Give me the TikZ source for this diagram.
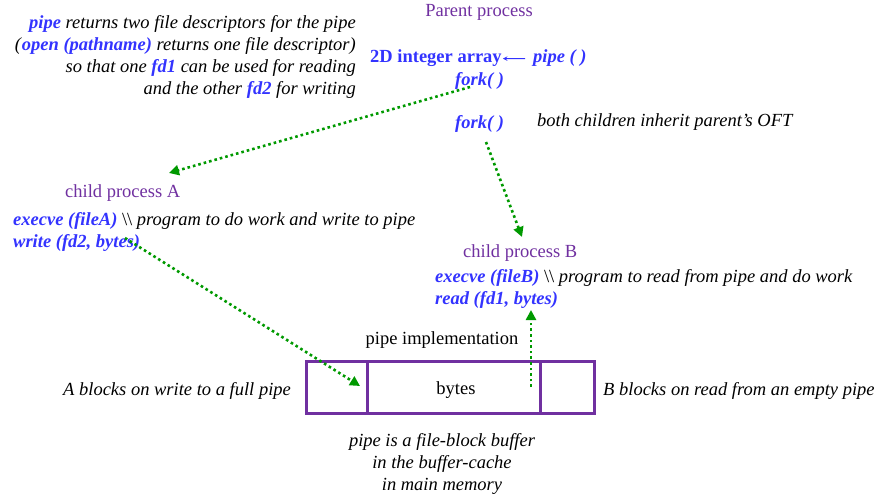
\documentclass[tikz,border=0pt]{standalone}
\usepackage{fontspec}
\setmainfont{Liberation Serif}
\usetikzlibrary{arrows.meta}
\definecolor{kwblue}{RGB}{51,51,255}
\definecolor{procpurple}{RGB}{112,48,160}
\definecolor{flowgreen}{RGB}{0,153,0}
\newcommand{\kw}[1]{\textcolor{kwblue}{\textbf{\textit{#1}}}}

\begin{document}
\begin{tikzpicture}[x=1pt,y=-1pt,>=stealth,
  every node/.style={inner sep=0pt,font=\fontsize{18.5}{22}\selectfont},
  proc/.style={text=procpurple},
  flow/.style={flowgreen,line width=2.6pt,dash pattern=on 2.6pt off 3pt,-{Triangle[length=10pt,width=10pt]}},
  box/.style={draw=procpurple,line width=3pt}]
\useasboundingbox (0,0) rectangle (882,495);

\coordinate (A1) at (470,87);
\coordinate (A2) at (169,173);
\coordinate (B1) at (486,142);
\coordinate (B2) at (522,237);
\coordinate (W1) at (125,238);
\coordinate (W2) at (360,386);
\coordinate (R1) at (531,387);
\coordinate (R2) at (531,310);

\node[anchor=base east,align=right] (note) at (356,94) {\kw{pipe} \textit{returns two file descriptors for the pipe}\\
  \textit{(}\kw{open (pathname)} \textit{returns one file descriptor)}\\
  \textit{so that one} \kw{fd1} \textit{can be used for reading}\\
  \textit{and the other} \kw{fd2} \textit{for writing}};

\node[proc,anchor=base] (parent) at (479,17) {Parent process};
\node[anchor=base west,text=kwblue,font=\fontsize{18.5}{22}\selectfont\bfseries] (arr) at (370,63) {2D integer array};
\node[anchor=base west] (pipecall) at (533,63) {\kw{pipe ( )}};
\draw[->,kwblue,line width=1pt,shorten >=1pt,shorten <=8pt] (pipecall.west) -- (arr.east);
\node[anchor=base west] (forkA) at (455,85) {\kw{fork( )}};
\node[anchor=base west] (forkB) at (455,128) {\kw{fork( )}};
\node[anchor=base west] (inherit) at (537,126) {\textit{both children inherit parent’s OFT}};

\node[proc,anchor=base west] (childA) at (65,197) {child process A};
\node[anchor=base west] (execA) at (13,225) {\kw{execve (fileA)} \textbackslash\textbackslash{} \textit{program to do work and write to pipe}};
\node[anchor=base west] (writeA) at (13,247) {\kw{write (fd2, bytes)}};

\node[proc,anchor=base west] (childB) at (463,257) {child process B};
\node[anchor=base west] (execB) at (435,282) {\kw{execve (fileB)} \textbackslash\textbackslash{} \textit{program to read from pipe and do work}};
\node[anchor=base west] (readB) at (435,304) {\kw{read (fd1, bytes)}};

\node[anchor=base] (impl) at (442,344) {pipe implementation};
\node[box,minimum width=288pt,minimum height=52pt] (buf) at (450,387) {};
\node[box,minimum width=173pt,minimum height=52pt] (bytes) at (453.5,387) {};
\node[anchor=base] (bytestext) at (456,394) {bytes};

\node[anchor=base west] (blockA) at (63,395) {\textit{A blocks on write to a full pipe}};
\node[anchor=base west] (blockB) at (603,395) {\textit{B blocks on read from an empty pipe}};
\node[anchor=base,align=center,font=\fontsize{18.5}{22}\selectfont\itshape] (cache) at (442,490) {pipe is a file-block buffer\\ in the buffer-cache\\ in main memory};

\draw[flow] (A1) -- (A2);
\draw[flow] (B1) -- (B2);
\draw[flow] (W1) -- (W2);
\draw[flow] (R1) -- (R2);
\end{tikzpicture}
\end{document}
